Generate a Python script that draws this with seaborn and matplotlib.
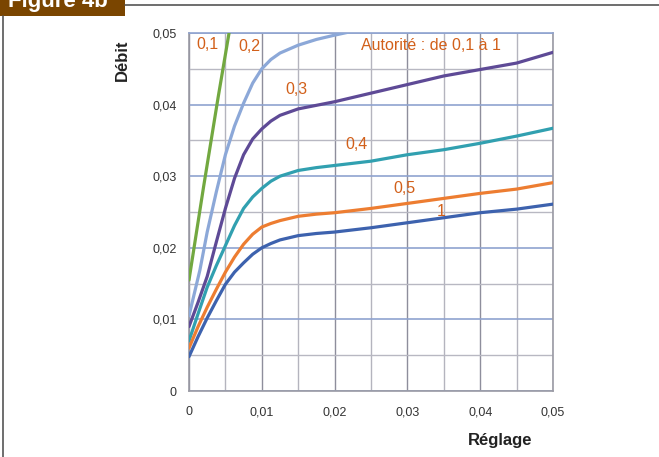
import matplotlib
matplotlib.use("Agg")
import matplotlib.pyplot as plt
from matplotlib.patches import Rectangle
from matplotlib.lines import Line2D
import seaborn as sns
import pandas as pd

# ---- data ----
x_01 = [0.0, 0.002, 0.004, 0.006]
y_01 = [0.0155, 0.0285, 0.0410, 0.0530]

x_02 = [0.0, 0.0015, 0.0025, 0.00375, 0.005, 0.00625, 0.0075, 0.00875, 0.01, 0.01125,
        0.0125, 0.015, 0.0175, 0.02, 0.025, 0.03]
y_02 = [0.0105, 0.0169, 0.0222, 0.0278, 0.0330, 0.0370, 0.0402, 0.0430, 0.0450, 0.0463,
        0.0472, 0.0483, 0.0491, 0.0497, 0.0508, 0.0515]

x_03 = [0.0, 0.00125, 0.0025, 0.00375, 0.005, 0.00625, 0.0075, 0.00875, 0.01, 0.01125,
        0.0125, 0.015, 0.0175, 0.02, 0.025, 0.03, 0.035, 0.04, 0.045, 0.05]
y_03 = [0.0090, 0.0124, 0.0160, 0.0208, 0.0255, 0.0297, 0.0330, 0.0352, 0.0366, 0.0377,
        0.0385, 0.0394, 0.0399, 0.0404, 0.0416, 0.0428, 0.0440, 0.0449, 0.0458, 0.0473]

x_04 = [0.0, 0.00125, 0.0025, 0.00375, 0.005, 0.00625, 0.0075, 0.00875, 0.01, 0.01125,
        0.0125, 0.015, 0.0175, 0.02, 0.025, 0.03, 0.035, 0.04, 0.045, 0.05]
y_04 = [0.0070, 0.0108, 0.0145, 0.0175, 0.0203, 0.0231, 0.0255, 0.0271, 0.0283, 0.0293,
        0.0300, 0.0308, 0.0312, 0.0315, 0.0321, 0.0330, 0.0337, 0.0346, 0.0356, 0.0367]

x_05 = [0.0, 0.00125, 0.0025, 0.00375, 0.005, 0.00625, 0.0075, 0.00875, 0.01, 0.01125,
        0.0125, 0.015, 0.0175, 0.02, 0.025, 0.03, 0.035, 0.04, 0.045, 0.05]
y_05 = [0.0060, 0.0090, 0.0117, 0.0142, 0.0166, 0.0187, 0.0205, 0.0219, 0.0229, 0.0234,
        0.0238, 0.0244, 0.0247, 0.0249, 0.0255, 0.0262, 0.0269, 0.0276, 0.0282, 0.0291]

x_1 = [0.0, 0.00125, 0.0025, 0.00375, 0.005, 0.00625, 0.0075, 0.00875, 0.01, 0.01125,
       0.0125, 0.015, 0.0175, 0.02, 0.025, 0.03, 0.035, 0.04, 0.045, 0.05]
y_1 = [0.0048, 0.0076, 0.0102, 0.0126, 0.0149, 0.0166, 0.0179, 0.0191, 0.0200, 0.0206,
       0.0211, 0.0217, 0.0220, 0.0222, 0.0228, 0.0235, 0.0242, 0.0249, 0.0254, 0.0261]

series_names = ["0,1", "0,2", "0,3", "0,4", "0,5", "1"]
series_x = [x_01, x_02, x_03, x_04, x_05, x_1]
series_y = [y_01, y_02, y_03, y_04, y_05, y_1]
series_colors = ["#72A840", "#8CA8D8", "#5E4A96", "#31A0B0", "#ED7D31", "#3D62AE"]

# label positions (data coords)
label_pos = {"0,1": (0.0025, 0.0484), "0,2": (0.0083, 0.0481), "0,3": (0.0148, 0.0421),
             "0,4": (0.0230, 0.0344), "0,5": (0.0296, 0.0283), "1": (0.0347, 0.0250)}

xticks = [0, 0.01, 0.02, 0.03, 0.04, 0.05]
xticklabels = ["0", "0,01", "0,02", "0,03", "0,04", "0,05"]
yticks = [0, 0.01, 0.02, 0.03, 0.04, 0.05]
yticklabels = ["0", "0,01", "0,02", "0,03", "0,04", "0,05"]

rows = []
for n, xs, ys in zip(series_names, series_x, series_y):
    for i, (a, b) in enumerate(zip(xs, ys)):
        rows.append({"serie": n, "Réglage": a, "Débit": b, "ordre": i})
df = pd.DataFrame(rows)

sns.set_style("white")
plt.rcParams["font.family"] = ["Liberation Sans", "DejaVu Sans"]

W, H = 659, 457
fig = plt.figure(figsize=(W / 100, H / 100), dpi=100)
fig.patch.set_facecolor("white")

x0, x1p, y0p, y1p = 189, 553, 391, 33
ax = fig.add_axes([x0 / W, 1 - y0p / H, (x1p - x0) / W, (y0p - y1p) / H])

sns.lineplot(data=df, x="Réglage", y="Débit", hue="serie", hue_order=series_names,
             palette=dict(zip(series_names, series_colors)), sort=False,
             linewidth=2.3, legend=False, ax=ax, estimator=None, zorder=3)
for ln in ax.get_lines():
    ln.set_solid_joinstyle("round")
    ln.set_solid_capstyle("round")

ax.set_xlim(0, 0.05)
ax.set_ylim(0, 0.05)
ax.set_xticks(xticks)
ax.set_xticklabels(xticklabels)
ax.set_yticks(yticks)
ax.set_yticklabels(yticklabels)
ax.set_xticks([0.005, 0.015, 0.025, 0.035, 0.045], minor=True)
ax.set_yticks([0.005, 0.015, 0.025, 0.035, 0.045], minor=True)
ax.tick_params(which="both", length=0, labelsize=9, colors="#333333")
ax.tick_params(axis="x", pad=11)
ax.tick_params(axis="y", pad=9)
ax.set_xlabel("")
ax.set_ylabel("")

ax.xaxis.grid(True, which="major", color="#8E8E9C", lw=1.0, zorder=0)
ax.xaxis.grid(True, which="minor", color="#B4B4BE", lw=1.0, zorder=0)
ax.yaxis.grid(True, which="major", color="#8FA3CF", lw=1.2, zorder=0)
ax.yaxis.grid(True, which="minor", color="#B8B8C2", lw=1.0, zorder=0)
ax.set_axisbelow(True)
for s in ["left", "bottom", "right"]:
    ax.spines[s].set_color("#9A9AA4")
    ax.spines[s].set_linewidth(1.2)
ax.spines["top"].set_color("#8FA3CF")
ax.spines["top"].set_linewidth(1.2)

lab_col = "#D2601A"
for n in series_names:
    lx, ly = label_pos[n]
    ax.text(lx, ly, n, color=lab_col, fontsize=11.5, ha="center", va="center", zorder=5)
ax.text(0.0333, 0.0483, "Autorité : de 0,1 à 1", color=lab_col, fontsize=11.5,
        ha="center", va="center", zorder=5)

fig.text(122 / W, 1 - 60 / H, "Débit", rotation=90, fontsize=12, fontweight="bold",
         color="#222222", ha="center", va="center")
fig.text(500 / W, 1 - 441 / H, "Réglage", fontsize=12, fontweight="bold",
         color="#222222", ha="center", va="center")

# frame and "Figure 4b" tag (its text is cut by the top edge, as in the reference)
fig.add_artist(Line2D([125 / W, 1], [1 - 5 / H, 1 - 5 / H], color="#555555", lw=1.2,
                      transform=fig.transFigure))
fig.add_artist(Line2D([3 / W, 3 / W], [1 - 16 / H, 0], color="#555555", lw=1.2,
                      transform=fig.transFigure))
fig.add_artist(Rectangle((0, 1 - 16 / H), 125 / W, 16 / H, facecolor="#7A4500",
                         edgecolor="none", transform=fig.transFigure))
fig.text(8 / W, 1 - 7 / H, "Figure 4b", color="white", fontsize=16, fontweight="bold",
         ha="left", va="baseline")

fig.savefig("out.png", dpi=100)
